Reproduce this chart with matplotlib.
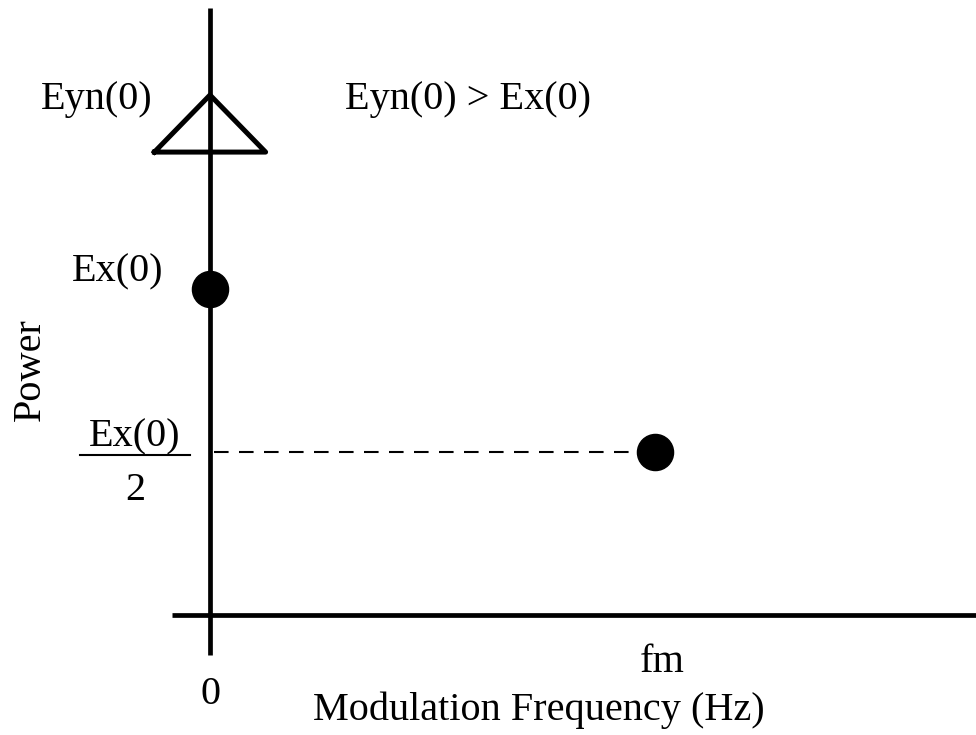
import matplotlib.pyplot as plt
import numpy as np

# values (power in units of Ex(0), frequency in units of fm)
freq = [0.0, 1.0]
power = [1.0, 0.5]
eyn_power = 1.595
labels_y = ['Ex(0)', 'Ex(0)', '2']

plt.rcParams['font.family'] = ['Liberation Serif', 'DejaVu Serif']

fig = plt.figure(figsize=(9.76, 7.35), dpi=100)
ax = fig.add_axes([0, 0, 1, 1])
ax.set_xlim(-210 / 445, (976 - 210) / 445)
ax.set_ylim((615 - 735) / 326, 615 / 326)
ax.axis('off')


def px(x, y):
    # pixel position -> data, only used for text placement
    return (x - 210) / 445, (615 - y) / 326


# axes lines
ax.plot([0, 0], [px(0, 655)[1], px(0, 8)[1]], color='black', lw=3.4, solid_capstyle='butt')
ax.plot([px(172, 0)[0], px(976, 0)[0]], [0, 0], color='black', lw=3.4, solid_capstyle='butt')

# triangle for Eyn(0)
tri_half = 0.125
tri_base = eyn_power - 0.175
ax.plot([-tri_half, 0, tri_half, -tri_half], [tri_base, eyn_power, tri_base, tri_base],
        color='black', lw=3.6, solid_joinstyle='round')

# dashed line at Ex(0)/2
ax.plot([0.01, freq[1] - 0.035], [power[1], power[1]], color='black', lw=1.5,
        dashes=(7, 5))

# dots
ax.plot(freq, power, 'o', color='black', markersize=26)

fs = 29
ax.text(*px(97, 100), 'Eyn(0)', fontsize=fs, ha='center', va='center')
ax.text(*px(468, 100), 'Eyn(0) > Ex(0)', fontsize=fs, ha='center', va='center')
ax.text(*px(118, 272), labels_y[0], fontsize=fs, ha='center', va='center')
ax.text(*px(135, 437), labels_y[1], fontsize=fs, ha='center', va='center')
ax.plot([px(80, 0)[0], px(190, 0)[0]], [px(0, 455)[1]] * 2, color='black', lw=1.5)
ax.text(*px(135, 490), labels_y[2], fontsize=fs, ha='center', va='center')
ax.text(*px(30, 370), 'Power', fontsize=fs, ha='center', va='center', rotation=90)
ax.text(*px(662, 662), 'fm', fontsize=fs, ha='center', va='center')
ax.text(*px(210, 695), '0', fontsize=fs, ha='center', va='center')
ax.text(*px(539, 710), 'Modulation Frequency (Hz)', fontsize=fs, ha='center', va='center')

fig.savefig('out.png', dpi=100)
